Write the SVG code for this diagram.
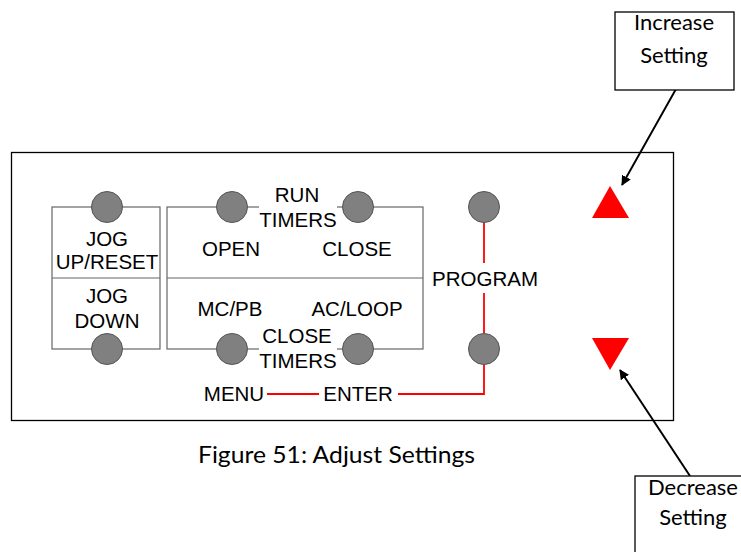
<svg xmlns="http://www.w3.org/2000/svg" width="741" height="552" viewBox="0 0 741 552">
<defs>
<marker id="ah" markerWidth="10" markerHeight="10" refX="9" refY="5" orient="auto" markerUnits="userSpaceOnUse" viewBox="0 0 10 10">
<path d="M0,0 L10,5 L0,10 z" fill="#000"/>
</marker>
<style>
.frame{fill:#fff;stroke:#000;stroke-width:1.3}
.inner{fill:none;stroke:#666;stroke-width:1.2}
.btn{fill:#808080;stroke:#555;stroke-width:1}
.lbl{font-family:"Liberation Sans",Arial,sans-serif;font-size:20.5px;fill:#000;text-anchor:middle}
.call{font-family:"Lato","Noto Sans",sans-serif;font-size:22px;fill:#000;text-anchor:middle}
.red{stroke:#f00;stroke-width:1.8;fill:none}
.tri{fill:#f00}
.arr{stroke:#000;stroke-width:2;fill:none}
</style>
</defs>
<rect width="741" height="552" fill="#fff"/>
<g id="panel">
<rect class="frame" x="11.5" y="152.5" width="662" height="268"/>
</g>
<g id="jog">
<rect class="inner" x="52" y="207" width="108" height="142"/>
<line class="inner" x1="52" y1="278" x2="160" y2="278"/>
<circle class="btn" cx="107" cy="207" r="15.5"/>
<circle class="btn" cx="107" cy="349" r="15.5"/>
<text class="lbl" x="107" y="246">JOG</text>
<text class="lbl" x="107" y="269">UP/RESET</text>
<text class="lbl" x="107" y="303">JOG</text>
<text class="lbl" x="107" y="328">DOWN</text>
</g>
<g id="timers">
<rect class="inner" x="167" y="207" width="256" height="142"/>
<line class="inner" x1="167" y1="278" x2="423" y2="278"/>
<rect x="259" y="201" width="78" height="12" fill="#fff"/>
<rect x="259" y="343" width="78" height="12" fill="#fff"/>
<circle class="btn" cx="232" cy="207" r="15.5"/>
<circle class="btn" cx="358" cy="207" r="15.5"/>
<circle class="btn" cx="232" cy="349" r="15.5"/>
<circle class="btn" cx="358" cy="349" r="15.5"/>
<text class="lbl" x="297" y="202">RUN</text>
<text class="lbl" x="298" y="227">TIMERS</text>
<text class="lbl" x="231" y="256">OPEN</text>
<text class="lbl" x="357" y="256">CLOSE</text>
<text class="lbl" x="230" y="316">MC/PB</text>
<text class="lbl" x="357" y="316">AC/LOOP</text>
<text class="lbl" x="297" y="343">CLOSE</text>
<text class="lbl" x="298" y="368">TIMERS</text>
</g>
<g id="connectors">
<path class="red" d="M484,222 V263"/>
<path class="red" d="M484,293 V333"/>
<path class="red" d="M484,364 V394 H398"/>
<path class="red" d="M267,394 H319"/>
<line class="arr" x1="676" y1="89" x2="622" y2="185" marker-end="url(#ah)"/>
<line class="arr" x1="690" y1="476" x2="620" y2="370" marker-end="url(#ah)"/>
</g>
<g id="program">
<circle class="btn" cx="484" cy="207" r="15.5"/>
<circle class="btn" cx="484" cy="349" r="15.5"/>
<text class="lbl" x="485" y="286">PROGRAM</text>
</g>
<g id="menu-enter">
<text class="lbl" x="234" y="401">MENU</text>
<text class="lbl" x="358" y="401">ENTER</text>
</g>
<g id="up">
<polygon class="tri" points="610,186 629,218 592,218"/>
</g>
<g id="down">
<polygon class="tri" points="592,338 629,338 610,370"/>
</g>
<g id="increase">
<rect x="615" y="12" width="119" height="78" fill="#fff" stroke="#000" stroke-width="1.3"/>
<text class="call" x="674" y="30">Increase</text>
<text class="call" x="674" y="63">Setting</text>
</g>
<g id="decrease">
<rect x="635" y="476" width="120" height="90" fill="#fff" stroke="#000" stroke-width="1.3"/>
<text class="call" x="693" y="495">Decrease</text>
<text class="call" x="693" y="525">Setting</text>
</g>
<g id="caption">
<text x="198" y="463" font-family="Lato,'Noto Sans',sans-serif" font-size="23" textLength="277" lengthAdjust="spacingAndGlyphs" fill="#000">Figure 51: Adjust Settings</text>
</g>
</svg>
